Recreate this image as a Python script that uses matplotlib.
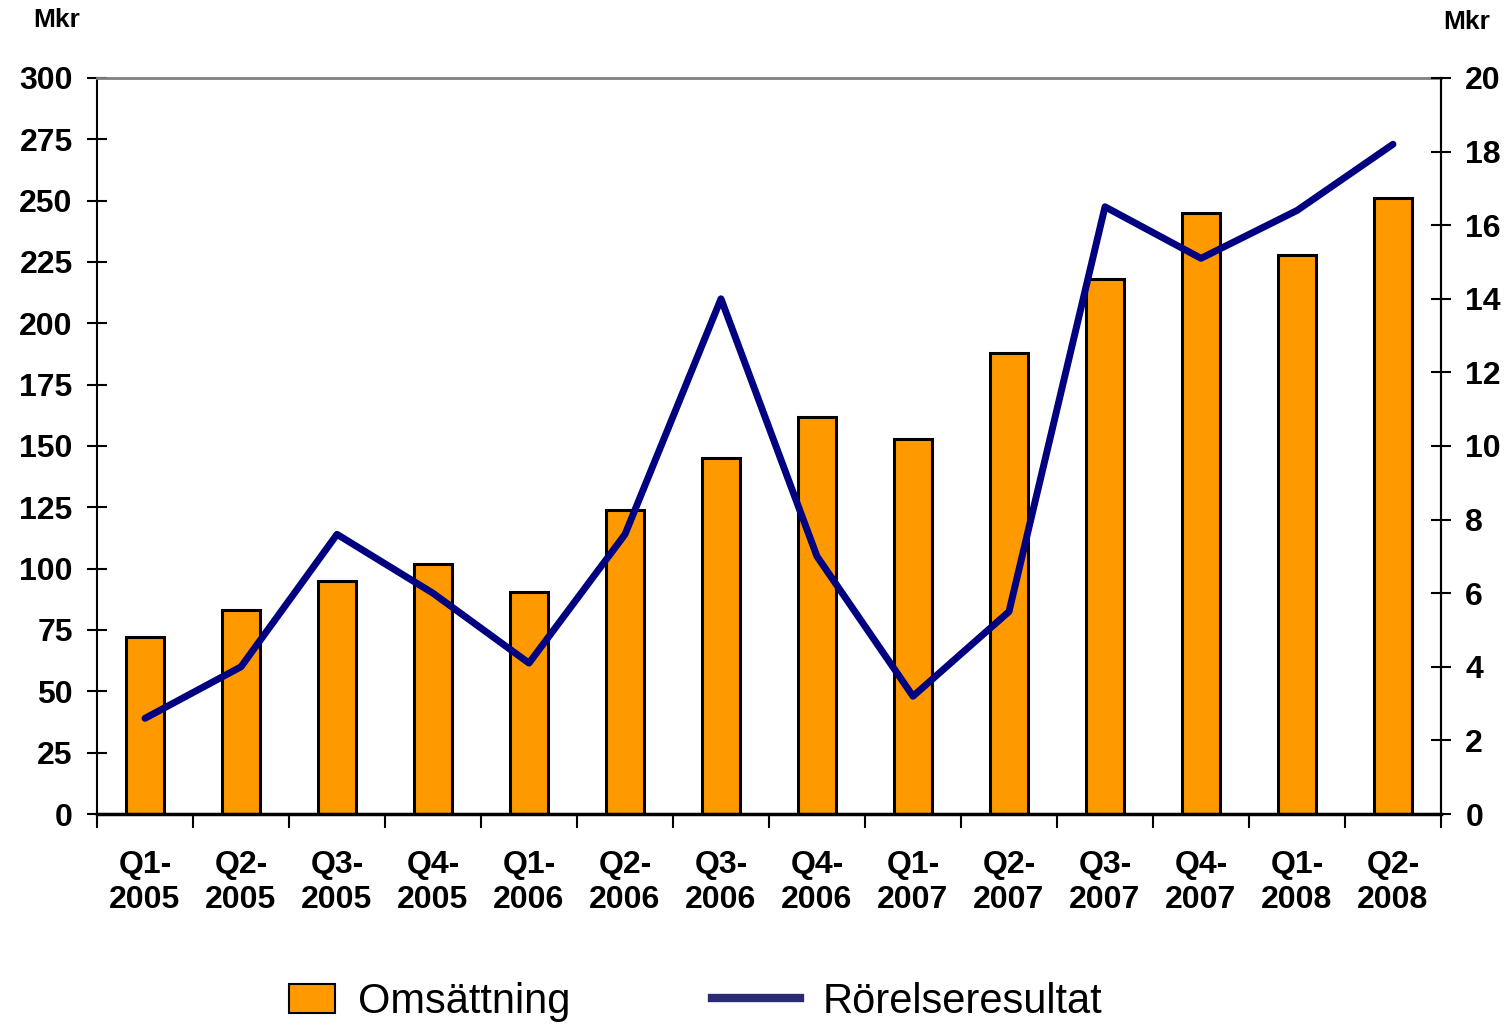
import matplotlib
matplotlib.use("Agg")
from matplotlib import pyplot as plt
from matplotlib.lines import Line2D
from matplotlib.patches import Patch
import numpy as np

plt.rcParams['font.family'] = ['Liberation Sans', 'DejaVu Sans']

# data
quarters = ["Q1-\n2005", "Q2-\n2005", "Q3-\n2005", "Q4-\n2005",
            "Q1-\n2006", "Q2-\n2006", "Q3-\n2006", "Q4-\n2006",
            "Q1-\n2007", "Q2-\n2007", "Q3-\n2007", "Q4-\n2007",
            "Q1-\n2008", "Q2-\n2008"]
omsattning = [72, 83, 95, 102, 90.5, 124, 145, 162, 153, 188, 218, 245, 228, 251]
rorelseresultat = [2.6, 4.0, 7.6, 6.0, 4.1, 7.6, 14.0, 7.0, 3.2, 5.5, 16.5, 15.1, 16.4, 18.2]
left_ticks = list(range(0, 301, 25))
right_ticks = list(range(0, 21, 2))

x = np.arange(len(quarters))

fig = plt.figure(figsize=(15.1, 10.23), dpi=100)
ax = fig.add_axes([97/1510, 1-814/1023, (1441-97)/1510, (814-78)/1023])

ax.bar(x, omsattning, width=0.4, color="#FF9900", edgecolor="black", linewidth=2.2, zorder=2)
ax.set_xlim(-0.5, len(quarters)-0.5)
ax.set_ylim(0, 300)
ax.set_yticks(left_ticks)
ax.tick_params(axis='y', direction='inout', length=15, width=1.5, pad=10, labelsize=23)
for lab in ax.get_yticklabels():
    lab.set_fontweight('bold')

# x ticks on category boundaries, labels in the middle
ax.set_xticks(np.arange(-0.5, len(quarters), 1.0))
ax.set_xticklabels([])
ax.tick_params(axis='x', which='major', direction='out', length=10, width=1.5)
ax.set_xticks(x, minor=True)
ax.set_xticklabels(quarters, minor=True, fontsize=23, fontweight='bold', linespacing=1.2)
ax.tick_params(axis='x', which='minor', length=0, pad=26)

ax.spines['top'].set_color('#808080')
ax.spines['top'].set_linewidth(2)
ax.spines['bottom'].set_linewidth(2.5)
ax.spines['left'].set_linewidth(1.5)
ax.spines['right'].set_linewidth(1.5)

ax2 = ax.twinx()
ax2.plot(x, rorelseresultat, color="#000080", linewidth=5, solid_capstyle='round',
         solid_joinstyle='round', zorder=3)
ax2.set_ylim(0, 20)
ax2.set_yticks(right_ticks)
ax2.tick_params(axis='y', direction='inout', length=15, width=1.5, pad=10, labelsize=23)
for lab in ax2.get_yticklabels():
    lab.set_fontweight('bold')
for s in ['top', 'bottom', 'left']:
    ax2.spines[s].set_visible(False)
ax2.spines['right'].set_linewidth(1.5)

fig.text(33/1510, 1-20/1023, "Mkr", fontsize=19, fontweight='bold', va='center', ha='left')
fig.text(1443/1510, 1-22/1023, "Mkr", fontsize=19, fontweight='bold', va='center', ha='left')

# two separate legend entries, each with its own handle size
leg_kw = dict(loc='center left', frameon=False, fontsize=30, borderpad=0,
              borderaxespad=0, handletextpad=0.55)
fig.legend([Patch(facecolor="#FF9900", edgecolor="black", linewidth=1.5)], ["Omsättning"],
           bbox_to_anchor=(289/1510, 1-1002/1023), handlelength=1.1, handleheight=0.72,
           **leg_kw)
fig.legend([Line2D([0], [0], color="#2B2B73", linewidth=6)], ["Rörelseresultat"],
           bbox_to_anchor=(712/1510, 1-1002/1023), handlelength=2.1, **leg_kw)

fig.savefig("out.png", dpi=100)
